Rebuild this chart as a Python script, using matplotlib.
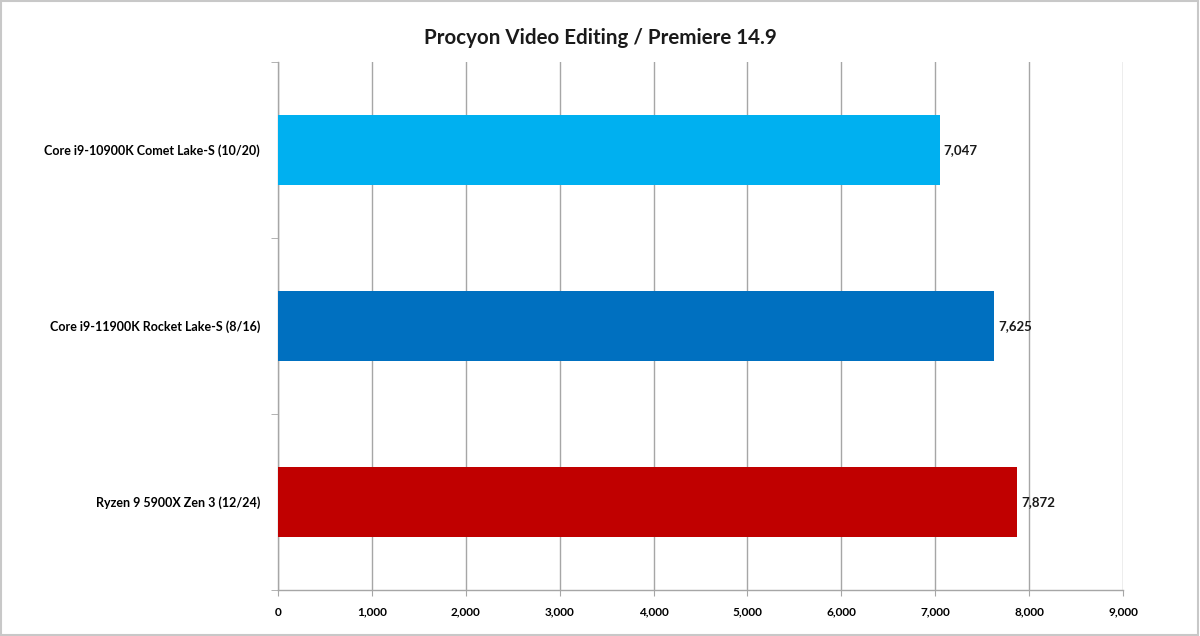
import matplotlib.pyplot as plt
from matplotlib.ticker import FuncFormatter, FixedLocator
from matplotlib.patches import Rectangle

categories = [
    "Core i9-10900K Comet Lake-S (10/20)",
    "Core i9-11900K Rocket Lake-S (8/16)",
    "Ryzen 9 5900X Zen 3 (12/24)",
]
scores = [7047, 7625, 7872]
colors = ["#00B0F0", "#0070C0", "#C00000"]
x_ticks = [0, 1000, 2000, 3000, 4000, 5000, 6000, 7000, 8000, 9000]
title = "Procyon Video Editing / Premiere 14.9"

plt.rcParams["font.family"] = ["Lato", "DejaVu Sans"]

fig = plt.figure(figsize=(12, 6.36), dpi=100)
ax = fig.add_axes([278 / 1200, 1 - 590 / 636, (1123 - 278) / 1200, (590 - 62) / 636])

n = len(categories)
ypos = list(range(n))
ax.barh(ypos, scores, height=0.4, color=colors, zorder=3)
ax.set_ylim(n - 0.5, -0.5)
ax.set_xlim(0, 9000)

ax.xaxis.set_major_locator(FixedLocator(x_ticks))
ax.xaxis.set_major_formatter(FuncFormatter(lambda v, p: f"{int(v):,}"))
ax.grid(axis="x", color="#A6A6A6", linewidth=1, zorder=0)

ax.set_yticks(ypos)
ax.set_yticklabels(categories)
ax.set_yticks([i - 0.5 for i in range(n + 1)], minor=True)
ax.tick_params(axis="y", which="major", length=0, pad=13, labelsize=9)
ax.tick_params(axis="y", which="minor", length=5, color="#A6A6A6")
ax.tick_params(axis="x", length=4, color="#A6A6A6", pad=8, labelsize=8.5)
for lab in ax.get_xticklabels() + ax.get_yticklabels():
    lab.set_fontweight("bold")

for s in ["top", "right"]:
    ax.spines[s].set_visible(False)
for s in ["left", "bottom"]:
    ax.spines[s].set_color("#A6A6A6")
    ax.spines[s].set_linewidth(1)

for y, v in zip(ypos, scores):
    ax.text(v + 45, y, f"{v:,}", va="center", ha="left",
            fontsize=9.5, fontweight="bold", color="#1a1a1a")

fig.text(0.5, 1 - 38 / 636, title, ha="center", va="center",
         fontsize=14.8, fontweight="bold", color="#1a1a1a")

fig.patches.append(Rectangle((0.001, 0.002), 0.997, 0.996, transform=fig.transFigure,
                             fill=False, edgecolor="#C8C8C8", linewidth=1.5))

fig.savefig("out.png", dpi=100)
